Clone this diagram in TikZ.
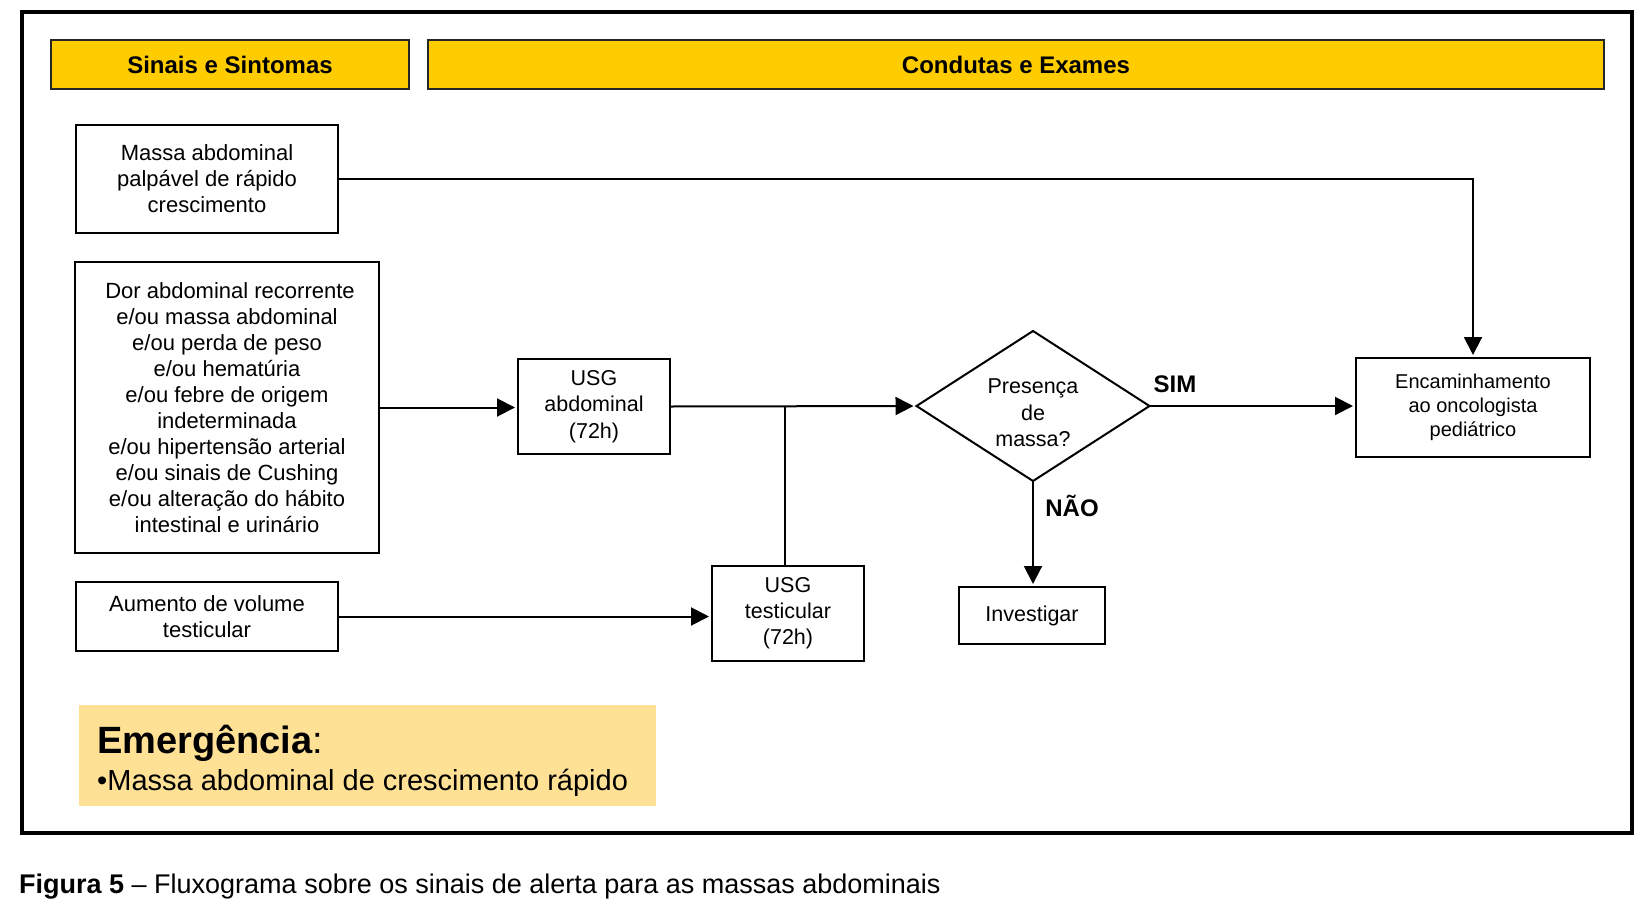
\documentclass[tikz,border=0pt]{standalone}
\usepackage{fontspec}
\setmainfont{Liberation Sans}
\usetikzlibrary{arrows.meta,shapes.geometric,calc}
\definecolor{hdrc}{HTML}{FFCC00}
\definecolor{emgc}{HTML}{FFE196}
\begin{document}
\begin{tikzpicture}[x=1pt,y=-1pt,
  box/.style={draw, line width=2pt, align=center, inner sep=0pt, outer sep=0pt, font=\fontsize{22}{26}\selectfont},
  hdr/.style={draw=black!85, line width=1.5pt, fill=hdrc, inner sep=0pt, outer sep=0pt, font=\fontsize{24}{28}\selectfont\bfseries},
  conn/.style={line width=2pt},
  arr/.style={conn, -{Triangle[length=18pt,width=18pt]}, shorten >=3pt},
  lbl/.style={font=\fontsize{24}{28}\selectfont\bfseries, inner sep=0pt}]
\useasboundingbox[fill=white] (0,0) rectangle (1648,921);
% outer frame
\draw[line width=4pt] (22,12) rectangle (1632,833);
% headers
\node[hdr, minimum width=358pt, minimum height=49pt] (h1) at (230,64.5) {Sinais e Sintomas};
\node[hdr, minimum width=1176pt, minimum height=49pt] (h2) at (1016,64.5) {Condutas e Exames};
% boxes
\node[box, minimum width=262pt, minimum height=108pt] (massa) at (207,179) {Massa abdominal\\palpável de rápido\\crescimento};
\node[box, minimum width=304pt, minimum height=291pt, font=\fontsize{22}{26}\selectfont] (dor) at (227,407.5) {\hspace*{6pt}Dor abdominal recorrente\\e/ou massa abdominal\\e/ou perda de peso\\e/ou hematúria\\e/ou febre de origem\\indeterminada\\e/ou hipertensão arterial\\e/ou sinais de Cushing\\e/ou alteração do hábito\\intestinal e urinário};
\node[box, minimum width=262pt, minimum height=69pt] (aum) at (207,616.5) {Aumento de volume\\testicular};
\node[box, minimum width=152pt, minimum height=95pt, font=\fontsize{21.5}{26.5}\selectfont] (usgabd) at (594,406.5) {USG\\abdominal\\(72h)};
\node[box, minimum width=152pt, minimum height=95pt, font=\fontsize{21.5}{26}\selectfont] (usgtest) at (788,613.5) {USG\\testicular\\(72h)};
\node[draw, line width=2pt, shape=diamond, inner sep=0pt, outer sep=0pt, minimum width=233pt, minimum height=150pt] (dia) at (1033,406) {};
\node[align=center, inner sep=0pt, font=\fontsize{21.5}{26.5}\selectfont] (diat) at (1033,413) {Presença\\de\\massa?};
\node[box, minimum width=146pt, minimum height=57pt, font=\fontsize{21.5}{26}\selectfont] (inv) at (1032,615.5) {Investigar};
\node[box, minimum width=234pt, minimum height=99pt, font=\fontsize{20}{23.7}\selectfont] (enc) at (1473,407.5) {Encaminhamento\\ao oncologista\\pediátrico};
% connectors
\draw[arr] (massa.east) -| (enc.north);
\draw[arr] (dor.east) -- (dor.east -| usgabd.west);
\draw[arr] (usgabd.east) -- (dia.west);
\draw[conn] ([xshift=-3pt]usgtest.north) -- ([xshift=-3pt]usgtest.north |- usgabd.east);
\draw[arr] (aum.east) -- (aum.east -| usgtest.west);
\draw[arr] (dia.east) -- (dia.east -| enc.west);
\draw[arr] (dia.south) -- (dia.south |- inv.north);
\node[lbl, anchor=base] (sim) at (1175,392) {SIM};
\node[lbl, anchor=base] (nao) at (1072,516) {NÃO};
% emergency box
\fill[emgc] (79,705) rectangle (656,806);
\node[anchor=base west, inner sep=0pt, font=\fontsize{38}{44}\selectfont] (emg) at (97,753) {\textbf{Emergência}:};
\node[anchor=base west, inner sep=0pt, font=\fontsize{29}{34}\selectfont] (emg2) at (97,790) {•Massa abdominal de crescimento rápido};
% caption
\node[anchor=base west, inner sep=0pt, font=\fontsize{27}{32}\selectfont] (cap) at (19,893) {\textbf{Figura 5} – Fluxograma sobre os sinais de alerta para as massas abdominais};
\end{tikzpicture}
\end{document}
